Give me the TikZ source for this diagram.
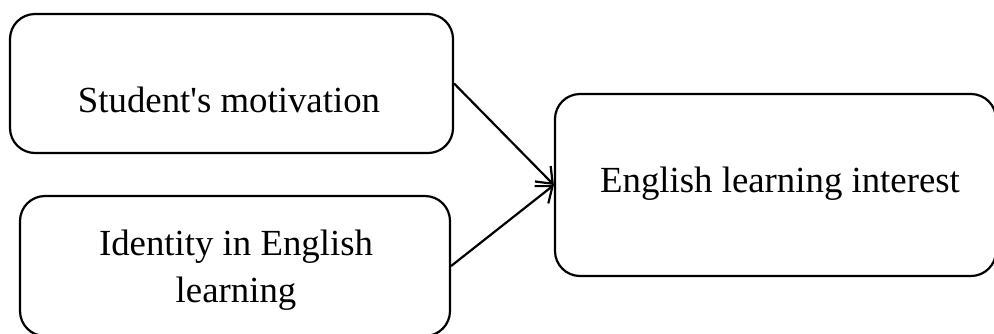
\documentclass[tikz,border=0pt]{standalone}
\usepackage{fontspec}
\setmainfont{Liberation Serif}[Ligatures=TeXOff]
\usetikzlibrary{arrows.meta}
\begin{document}
\begin{tikzpicture}[x=0.5pt,y=-0.5pt,
  box/.style={draw, line width=1.1pt, rounded corners=12.5pt, inner sep=0pt},
  lbl/.style={inner sep=0pt, font=\fontsize{18.4pt}{23.5pt}\selectfont, align=center},
  conn/.style={line width=1.1pt, -{Straight Barb[length=7pt,width=11pt,line width=1.1pt]}}]
\useasboundingbox (0,0) rectangle (994,333);
\node[box, minimum width=221.5pt, minimum height=69.5pt] (b1) at (231.5,83.5) {};
\node[box, minimum width=215pt, minimum height=70pt] (b2) at (235,266) {};
\node[box, minimum width=220.5pt, minimum height=91pt] (b3) at (775.5,185) {};
\node[lbl, anchor=base] (t1) at (229,112) {Student's motivation};
\node[lbl, anchor=base] (t2) at (236,302) {Identity in English\\learning};
\node[lbl, anchor=base] (t3) at (780,192) {English learning interest};
\draw[conn] (b1.east) -- (b3.west);
\draw[conn] (b2.east) -- (b3.west);
\end{tikzpicture}
\end{document}
